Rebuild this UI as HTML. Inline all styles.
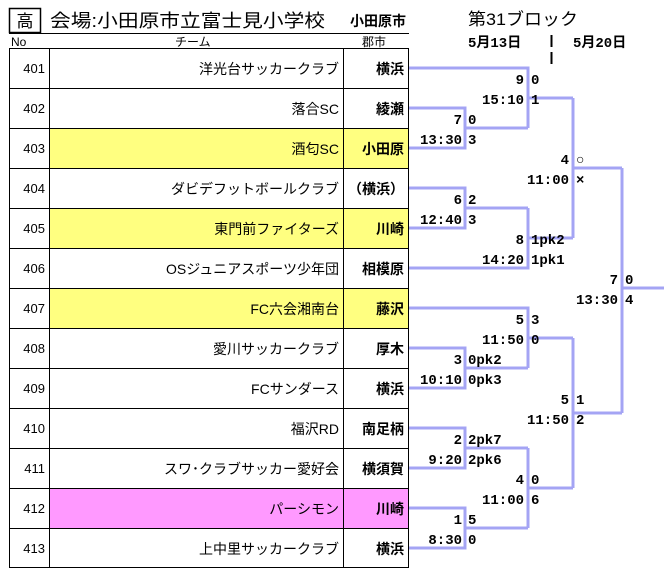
<!DOCTYPE html>
<html><head><meta charset="utf-8"><style>
body{margin:0;background:#fff;}
svg{display:block;font-family:"Liberation Sans","Noto Sans CJK JP",sans-serif;}
.n{font-size:14px;fill:#000;}
.c{font-size:14px;font-weight:bold;}
.b{font-size:14px;font-weight:bold;font-family:"Liberation Mono","Noto Sans CJK JP",monospace;}
</style></head><body>
<svg width="664" height="573" viewBox="0 0 664 573" xmlns="http://www.w3.org/2000/svg">
<rect x="9.5" y="8.5" width="31" height="24" fill="none" stroke="#000" stroke-width="1.5"/>
<text x="25" y="27" font-size="17" text-anchor="middle">高</text>
<text x="50" y="27" font-size="18" textLength="275" lengthAdjust="spacingAndGlyphs">会場:小田原市立富士見小学校</text>
<text x="350" y="26" font-size="14" font-weight="bold">小田原市</text>
<line x1="9" y1="33.5" x2="409" y2="33.5" stroke="#000"/>
<text x="468" y="25" font-size="17" textLength="110" lengthAdjust="spacingAndGlyphs">第31ブロック</text>
<text x="468" y="47" class="b" font-size="14">5月13日</text>
<text x="573" y="47" class="b" font-size="14">5月20日</text>
<line x1="551.5" y1="35" x2="551.5" y2="47" stroke="#000" stroke-width="2"/>
<line x1="551.5" y1="52" x2="551.5" y2="64" stroke="#000" stroke-width="2"/>
<text x="11" y="46" font-size="12">No</text>
<text x="175" y="46" font-size="12">チーム</text>
<text x="362" y="46" font-size="12">郡市</text>

<g>
<rect x="49" y="128" width="360" height="40" fill="#ffff80"/>
<rect x="49" y="208" width="360" height="40" fill="#ffff80"/>
<rect x="49" y="288" width="360" height="40" fill="#ffff80"/>
<rect x="49" y="488" width="360" height="40" fill="#ff99ff"/>
</g>
<g stroke="#000" stroke-width="1" fill="none">
<rect x="9.5" y="48.5" width="399" height="519"/>
<line x1="49.5" y1="48" x2="49.5" y2="568"/>
<line x1="343.5" y1="48" x2="343.5" y2="568"/>
<path d="M9 88.5H409M9 128.5H409M9 168.5H409M9 208.5H409M9 248.5H409M9 288.5H409M9 328.5H409M9 368.5H409M9 408.5H409M9 448.5H409M9 488.5H409M9 528.5H409"/>
</g>
<g text-anchor="end" font-size="13">
<text x="45" y="73">401</text><text x="45" y="113">402</text><text x="45" y="153">403</text><text x="45" y="193">404</text><text x="45" y="233">405</text><text x="45" y="273">406</text><text x="45" y="313">407</text><text x="45" y="353">408</text><text x="45" y="393">409</text><text x="45" y="433">410</text><text x="45" y="473">411</text><text x="45" y="513">412</text><text x="45" y="553">413</text>
</g>
<g class="n" text-anchor="end">
<text x="339" y="74">洋光台サッカークラブ</text>
<text x="339" y="114">落合SC</text>
<text x="339" y="154">酒匂SC</text>
<text x="339" y="194">ダビデフットボールクラブ</text>
<text x="339" y="234">東門前ファイターズ</text>
<text x="339" y="274">OSジュニアスポーツ少年団</text>
<text x="339" y="314">FC六会湘南台</text>
<text x="339" y="354">愛川サッカークラブ</text>
<text x="339" y="394">FCサンダース</text>
<text x="339" y="434">福沢RD</text>
<text x="339" y="474">スワ･クラブサッカー愛好会</text>
<text x="339" y="514">パーシモン</text>
<text x="339" y="554">上中里サッカークラブ</text>
</g>
<g class="c" text-anchor="end">
<text x="404" y="74">横浜</text><text x="404" y="114">綾瀬</text><text x="404" y="154">小田原</text><text x="404" y="194">（横浜）</text><text x="404" y="234">川崎</text><text x="404" y="274">相模原</text><text x="404" y="314">藤沢</text><text x="404" y="354">厚木</text><text x="404" y="394">横浜</text><text x="404" y="434">南足柄</text><text x="404" y="474">横須賀</text><text x="404" y="514">川崎</text><text x="404" y="554">横浜</text>
</g>
<g stroke="#a4a4f4" stroke-width="3" fill="none">
<path d="M409 108H465V148H409M465 128H528M409 68H528V128M528 98H573"/>
<path d="M409 188H465V228H409M465 208H528M409 268H528V208M528 238H573M573 98V238M573 168H622"/>
<path d="M409 348H465V388H409M465 368H528M409 308H528V368M528 338H573"/>
<path d="M409 428H465V468H409M465 448H528M409 508H465V548H409M465 528H528M528 448V528M528 488H573M573 338V488M573 413H622M622 168V413M622 288H664"/>
</g>
<g class="b" text-anchor="end">
<text x="462" y="124">7</text><text x="462" y="144">13:30</text>
<text x="524" y="84">9</text><text x="524" y="104">15:10</text>
<text x="569" y="164">4</text><text x="569" y="184">11:00</text>
<text x="462" y="204">6</text><text x="462" y="224">12:40</text>
<text x="524" y="244">8</text><text x="524" y="264">14:20</text>
<text x="618" y="284">7</text><text x="618" y="304">13:30</text>
<text x="524" y="324">5</text><text x="524" y="344">11:50</text>
<text x="462" y="364">3</text><text x="462" y="384">10:10</text>
<text x="569" y="404">5</text><text x="569" y="424">11:50</text>
<text x="462" y="444">2</text><text x="462" y="464">9:20</text>
<text x="524" y="484">4</text><text x="524" y="504">11:00</text>
<text x="462" y="524">1</text><text x="462" y="544">8:30</text>
</g>
<g class="b">
<text x="468" y="124">0</text><text x="468" y="144">3</text>
<text x="531" y="84">0</text><text x="531" y="104">1</text>
<text x="576" y="164">○</text><text x="576" y="184">×</text>
<text x="468" y="204">2</text><text x="468" y="224">3</text>
<text x="531" y="244">1pk2</text><text x="531" y="264">1pk1</text>
<text x="625" y="284">0</text><text x="625" y="304">4</text>
<text x="531" y="324">3</text><text x="531" y="344">0</text>
<text x="468" y="364">0pk2</text><text x="468" y="384">0pk3</text>
<text x="576" y="404">1</text><text x="576" y="424">2</text>
<text x="468" y="444">2pk7</text><text x="468" y="464">2pk6</text>
<text x="531" y="484">0</text><text x="531" y="504">6</text>
<text x="468" y="524">5</text><text x="468" y="544">0</text>
</g>
</svg>
</body></html>
